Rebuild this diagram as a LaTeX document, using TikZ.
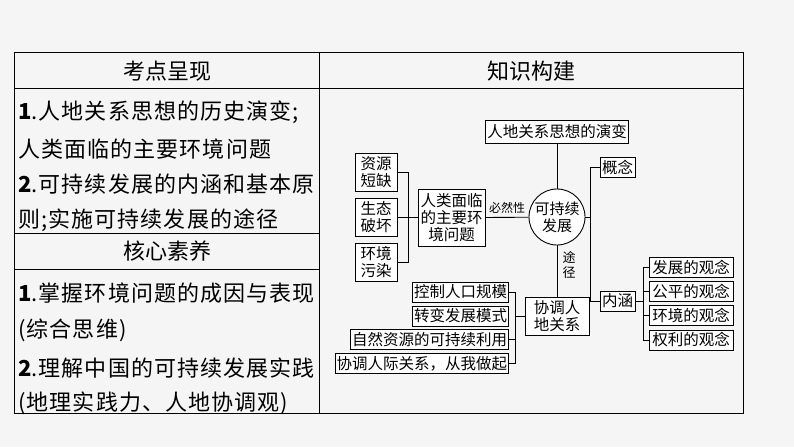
\documentclass[tikz,border=0pt]{standalone}
\usepackage{fontspec}
\newfontfamily\cjk{Noto Sans CJK SC}
\newfontfamily\cjksp{Noto Sans CJK SC}[LetterSpace=5]
\begin{document}
\begin{tikzpicture}[x=1pt,y=-1pt,
  bx/.style={draw,line width=0.9pt,fill=white,inner sep=1.5pt,font=\cjk\fontsize{15.5}{17}\selectfont,align=center},
  ln/.style={line width=0.9pt},
  lt/.style={anchor=west,font=\cjksp\fontsize{22}{24}\selectfont,inner sep=0pt},
  hd/.style={font=\cjk\fontsize{22}{24}\selectfont,inner sep=0pt}]
\fill[gray!8] (0,0) rectangle (794,447);
\useasboundingbox (0,0) rectangle (794,447);
% table
\draw[line width=0.8pt] (14,52) rectangle (743,413);
\draw[line width=0.8pt] (14,88) -- (743,88);
\draw[line width=0.8pt] (319,52) -- (319,413);
\draw[line width=0.8pt] (14,233) -- (319,233);
\draw[line width=0.8pt] (14,269) -- (319,269);
\node[hd] (h1) at (167,71) {考点呈现};
\node[hd] (h2) at (531,71) {知识构建};
\node[hd] (h3) at (167,251) {核心素养};
\node[lt] (t1) at (18,112) {\textbf{1}.人地关系思想的历史演变;};
\node[lt] (t2) at (18,149) {人类面临的主要环境问题};
\node[lt] (t3) at (18,184) {\textbf{2}.可持续发展的内涵和基本原};
\node[lt] (t4) at (18,220) {则;实施可持续发展的途径};
\node[lt] (t5) at (18,293) {\textbf{1}.掌握环境问题的成因与表现};
\node[lt] (t6) at (18,330) {(综合思维)};
\node[lt] (t7) at (18,368) {\textbf{2}.理解中国的可持续发展实践};
\node[lt] (t8) at (18,403) {(地理实践力、人地协调观)};
% diagram
\node[bx,minimum width=143pt,minimum height=23pt] (top) at (557,131.5) {人地关系思想的演变};
\node[draw,line width=0.9pt,circle,fill=white,minimum size=56pt,inner sep=0pt,align=center,font=\cjk\fontsize{15}{17}\selectfont] (c) at (557,217) {可持续\\发展};
\node[bx,minimum width=42pt,minimum height=38pt] (z1) at (376,172) {资源\\短缺};
\node[bx,minimum width=42pt,minimum height=38pt] (z2) at (376,217.5) {生态\\破坏};
\node[bx,minimum width=42pt,minimum height=38pt] (z3) at (376,262.5) {环境\\污染};
\node[bx,minimum width=67pt,minimum height=57pt,inner sep=0.5pt] (rl) at (451.5,217.5) {人类面临\\的主要环\\境问题};
\node[bx,minimum width=35pt,minimum height=20pt] (gn) at (617.5,167) {概念};
\node[bx,minimum width=35pt,minimum height=20pt] (nh) at (617.5,301) {内涵};
\node[bx,minimum width=84pt,minimum height=20pt] (r1) at (691,267) {发展的观念};
\node[bx,minimum width=84pt,minimum height=20pt] (r2) at (691,291) {公平的观念};
\node[bx,minimum width=84pt,minimum height=20pt] (r3) at (691,315.5) {环境的观念};
\node[bx,minimum width=84pt,minimum height=20pt] (r4) at (691,340) {权利的观念};
\node[bx,minimum width=64pt,minimum height=38pt] (xt) at (557,316) {协调人\\地关系};
\node[bx,minimum height=20pt,anchor=east] (l1) at (509,292) {控制人口规模};
\node[bx,minimum height=20pt,anchor=east] (l2) at (509,316) {转变发展模式};
\node[bx,minimum height=20pt,anchor=east] (l3) at (509,339.5) {自然资源的可持续利用};
\node[bx,minimum height=20pt,anchor=east] (l4) at (509,363.5) {协调人际关系，从我做起};
\node[font=\cjk\fontsize{12}{14}\selectfont,inner sep=0pt] (bi) at (507,208) {必然性};
\node[font=\cjk\fontsize{13}{15}\selectfont,inner sep=0pt,align=center] (tj) at (569,265) {途\\径};
\coordinate (bl) at (408,217.5);
\coordinate (br) at (590,217);
\coordinate (bn) at (643,301);
\coordinate (bx2) at (515,316);
\draw[ln] (top) -- (c);
\draw[ln] (c) -- (xt);
\draw[ln] (rl.east) -- (c);
\draw[ln] (z1.east) -| (bl) (z3.east) -| (bl) (z2.east) -- (rl.west);
\draw[ln] (c.east) -- (br);
\draw[ln] (gn.west) -| (br) (nh.west) -| (br);
\draw[ln] (nh.east) -- (bn);
\draw[ln] (r1.west) -| (bn) (r4.west) -| (bn) (r2.west) -- (bn |- r2) (r3.west) -- (bn |- r3);
\draw[ln] (xt.west) -- (bx2);
\draw[ln] (l1.east) -| (bx2) (l4.east) -| (bx2) (l3.east) -- (bx2 |- l3);
\end{tikzpicture}
\end{document}
